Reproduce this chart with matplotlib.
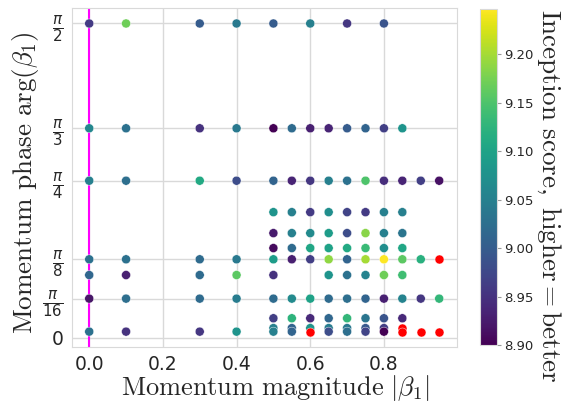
import numpy as np
import matplotlib
matplotlib.use('Agg')
import matplotlib.pyplot as plt
import seaborn as sns

# phase rows are pi / n ; magnitudes and inception scores per row
mag_pi2 = [0.0, 0.1, 0.3, 0.4, 0.5, 0.6, 0.7, 0.8]
is_pi2 = [8.96, 9.17, 9.00, 9.04, 9.00, 9.05, 8.955, 8.99]

mag_pi3 = [0.0, 0.1, 0.3, 0.4, 0.5, 0.55, 0.6, 0.65, 0.7, 0.75, 0.8, 0.85]
is_pi3 = [9.06, 9.03, 8.95, 9.04, 8.90, 9.02, 8.93, 8.935, 9.00, 9.01, 8.965, 9.08]

mag_pi4 = [0.0, 0.1, 0.3, 0.4, 0.5, 0.55, 0.6, 0.65, 0.7, 0.75, 0.8, 0.85, 0.9, 0.95]
is_pi4 = [9.05, 9.025, 9.11, 8.98, 9.01, 8.935, 8.955, 9.05, 9.03, 9.15, 8.945, 8.935, 8.965, 8.915]

mag_pi5 = [0.5, 0.55, 0.6, 0.65, 0.7, 0.75, 0.8, 0.85]
is_pi5 = [9.08, 9.05, 8.96, 9.07, 8.97, 8.96, 9.05, 9.05]

mag_pi6 = [0.5, 0.55, 0.6, 0.65, 0.7, 0.75, 0.8, 0.85]
is_pi6 = [8.925, 9.05, 9.065, 9.09, 8.98, 9.185, 9.05, 9.035]

mag_pi7 = [0.5, 0.55, 0.6, 0.65, 0.7, 0.75, 0.8, 0.85]
is_pi7 = [8.91, 9.02, 9.105, 9.10, 9.11, 9.135, 9.07, 9.105]

mag_pi8 = [0.0, 0.1, 0.3, 0.4, 0.5, 0.55, 0.6, 0.65, 0.7, 0.75, 0.8, 0.85, 0.9]
is_pi8 = [9.03, 9.03, 9.02, 9.04, 9.09, 8.93, 8.965, 9.19, 9.01, 9.20, 9.247, 9.16, 9.12]

mag_pi10 = [0.0, 0.1, 0.3, 0.4, 0.5, 0.65, 0.7, 0.75, 0.8, 0.85]
is_pi10 = [9.015, 8.93, 9.02, 9.16, 8.95, 9.08, 9.03, 9.055, 9.17, 9.14]

mag_pi16 = [0.0, 0.1, 0.3, 0.4, 0.5, 0.55, 0.6, 0.65, 0.7, 0.75, 0.8, 0.85, 0.9, 0.95]
is_pi16 = [8.92, 9.025, 9.02, 9.045, 9.02, 9.065, 9.10, 9.02, 9.025, 9.01, 8.93, 9.055, 8.955, 9.13]

mag_pi32 = [0.5, 0.55, 0.6, 0.65, 0.7, 0.75, 0.8, 0.85]
is_pi32 = [8.965, 9.125, 8.94, 9.015, 9.13, 9.035, 8.99, 8.94]

mag_pi64 = [0.5, 0.55, 0.6, 0.65, 0.7, 0.75, 0.8]
is_pi64 = [9.05, 9.01, 9.08, 9.045, 9.04, 8.995, 8.965]

mag_pi100 = [0.0, 0.1, 0.3, 0.4, 0.5, 0.55, 0.65, 0.7, 0.75, 0.8]
is_pi100 = [9.03, 8.95, 8.955, 9.08, 9.05, 9.01, 8.98, 9.025, 8.97, 8.90]

# runs drawn in red (diverged)
fail_mag = [0.95, 0.85, 0.6, 0.85, 0.9, 0.95]
fail_den = [8, 64, 100, 100, 100, 100]

rows = [(2, mag_pi2, is_pi2), (3, mag_pi3, is_pi3), (4, mag_pi4, is_pi4),
        (5, mag_pi5, is_pi5), (6, mag_pi6, is_pi6), (7, mag_pi7, is_pi7),
        (8, mag_pi8, is_pi8), (10, mag_pi10, is_pi10), (16, mag_pi16, is_pi16),
        (32, mag_pi32, is_pi32), (64, mag_pi64, is_pi64), (100, mag_pi100, is_pi100)]

ytick_vals = [np.pi/2, np.pi/3, np.pi/4, np.pi/8, np.pi/16, 0]
ytick_labels = [r'$\frac{\pi}{2}$', r'$\frac{\pi}{3}$', r'$\frac{\pi}{4}$',
                r'$\frac{\pi}{8}$', r'$\frac{\pi}{16}$', '0']

sns.set_style('whitegrid')
plt.rcParams['font.family'] = ['DejaVu Sans']

x = []
y = []
c = []
for den, m, s in rows:
    x += m
    y += [np.pi/den]*len(m)
    c += s

fig = plt.figure(figsize=(5.62, 4.04), dpi=100)
ax = fig.add_axes([0.1276, 0.141, 0.685, 0.839])
cax = fig.add_axes([0.854, 0.146, 0.031, 0.832])

sc = ax.scatter(x, y, c=c, cmap='viridis', vmin=8.90, vmax=9.247, s=42,
                edgecolors='white', linewidths=0.3, zorder=3)
ax.scatter(fail_mag, [np.pi/d for d in fail_den], color='red', s=42,
           edgecolors='white', linewidths=0.3, zorder=4)
ax.axvline(0, color='magenta', lw=1.5, zorder=2)

ax.set_yticks(ytick_vals)
ax.set_yticklabels(ytick_labels)
ax.set_xticks([0.0, 0.2, 0.4, 0.6, 0.8])
ax.set_xticklabels(['0.0', '0.2', '0.4', '0.6', '0.8'])
ax.tick_params(axis='both', labelsize=13.5, length=0, pad=6, colors='.15')
for t in ax.get_yticklabels()[:-1]:
    t.set_fontsize(15.5)
ax.grid(color='.85', lw=1)
for sp in ax.spines.values():
    sp.set_color('.85')

ax.set_xlabel(r'$\mathrm{Momentum\ magnitude\ }|\beta_1|$', fontsize=19,
              math_fontfamily='cm')
ax.xaxis.set_label_coords(0.528, -0.077)
ax.set_ylabel(r'$\mathrm{Momentum\ phase\ }\arg(\beta_1)$', fontsize=19.5,
              math_fontfamily='cm')
ax.yaxis.set_label_coords(-0.08, 0.485)

cb = fig.colorbar(sc, cax=cax)
cb.set_ticks([8.90, 8.95, 9.00, 9.05, 9.10, 9.15, 9.20])
cb.ax.tick_params(labelsize=9.5, length=3, width=0.8, color='.6', colors='.15', pad=2)
cb.outline.set_edgecolor('.85')
cb.set_label(r'$\mathrm{Inception\ score,\ higher} = \mathrm{better}$', fontsize=19.5,
             math_fontfamily='cm', rotation=270, va='center', ha='center')
cb.ax.yaxis.set_label_coords(3.95, 0.443)

fig.savefig('out.png', dpi=100)
